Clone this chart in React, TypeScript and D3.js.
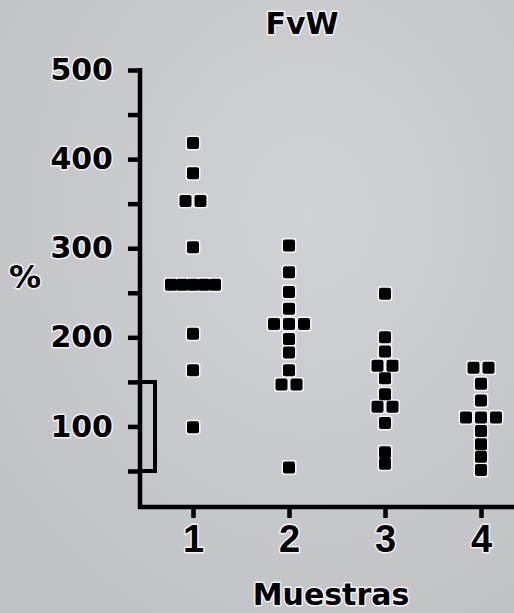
import React, { useRef, useEffect } from 'react';
import * as d3 from 'd3';

// Muestras (samples) on the x axis, FvW % values
const categories = [1, 2, 3, 4];
const muestra1 = [418, 384, 353, 353, 301, 259, 259, 259, 259, 259, 204, 163, 99];
const muestra2 = [303, 273, 251, 232, 215, 215, 215, 198, 183, 163, 147, 147, 54];
const muestra3 = [249, 200, 184, 168, 168, 154, 136, 122, 122, 104, 71, 58];
const muestra4 = [166, 166, 148, 129, 110, 110, 110, 95, 80, 66, 51];
const series = [muestra1, muestra2, muestra3, muestra4];

const yTicks = [50, 100, 150, 200, 250, 300, 350, 400, 450, 500];
const yLabelled = [100, 200, 300, 400, 500];
const normalRange = [50, 150];

const width = 514;
const height = 613;

const FvWChart = () => {
  const ref = useRef<SVGSVGElement>(null);

  useEffect(() => {
    const svg = d3.select(ref.current);
    svg.selectAll('*').remove();

    const axisX = 140;
    const baseY = 507;

    const x = d3.scaleLinear().domain([1, 4]).range([193, 481]);
    const y = d3.scaleLinear().domain([50, 500]).range([471, 70]);

    // background (photo of a screen, slightly vignetted)
    const defs = svg.append('defs');
    const grad = defs.append('radialGradient')
      .attr('id', 'bg')
      .attr('cx', '60%').attr('cy', '35%').attr('r', '80%');
    grad.append('stop').attr('offset', '0%').attr('stop-color', '#d0d2d5');
    grad.append('stop').attr('offset', '100%').attr('stop-color', '#bfc1c5');
    svg.append('rect')
      .attr('width', width)
      .attr('height', height)
      .attr('fill', 'url(#bg)');

    const halo = (sel) => sel
      .attr('stroke', '#f2f3f5')
      .attr('stroke-width', 3)
      .attr('stroke-linejoin', 'round')
      .attr('paint-order', 'stroke');

    // y axis
    const yAxis = svg.append('g')
      .attr('transform', `translate(${axisX},0)`)
      .call(
        d3.axisLeft(y)
          .tickValues(yTicks)
          .tickSize(12)
          .tickPadding(15)
          .tickFormat((d) => (yLabelled.includes(d as number) ? String(d) : ''))
      );
    yAxis.select('.domain').remove();
    yAxis.selectAll('line').attr('stroke', '#000').attr('stroke-width', 4.5);
    yAxis.selectAll('text')
      .attr('fill', '#000')
      .attr('font-family', '"DejaVu Sans", sans-serif')
      .attr('font-weight', 'bold')
      .attr('font-size', 30)
      .call(halo);

    // x axis
    const xAxis = svg.append('g')
      .attr('transform', `translate(0,${baseY})`)
      .call(
        d3.axisBottom(x)
          .tickValues(categories)
          .tickSize(11)
          .tickPadding(7)
          .tickFormat(d3.format('d'))
      );
    xAxis.select('.domain').remove();
    xAxis.selectAll('line').attr('stroke', '#000').attr('stroke-width', 4.5);
    xAxis.selectAll('text')
      .attr('fill', '#000')
      .attr('font-family', '"Liberation Sans", Arial, sans-serif')
      .attr('font-weight', 'bold')
      .attr('font-size', 38)
      .call(halo);

    // axis lines
    svg.append('path')
      .attr('d', `M${axisX},${y(500) - 2}V${baseY}H${width}`)
      .attr('fill', 'none')
      .attr('stroke', '#000')
      .attr('stroke-width', 4.5)
      .attr('stroke-linejoin', 'miter');

    // normal range bracket
    svg.append('path')
      .attr('d', `M${axisX},${y(normalRange[1])}H155V${y(normalRange[0])}H${axisX}`)
      .attr('fill', 'none')
      .attr('stroke', '#000')
      .attr('stroke-width', 4);

    // dots
    const size = 12;
    const dots = [];
    series.forEach((vals, gi) => {
      const counts = d3.rollup(vals, (v) => v.length, (d) => d);
      const seen = new Map();
      vals.forEach((v) => {
        const n = counts.get(v);
        const i = seen.get(v) || 0;
        seen.set(v, i + 1);
        const step = n > 3 ? 11 : 15;
        dots.push({ cx: x(categories[gi]) + (i - (n - 1) / 2) * step, cy: y(v) });
      });
    });

    const g = svg.append('g');
    g.selectAll('rect.halo')
      .data(dots)
      .join('rect')
      .attr('class', 'halo')
      .attr('x', (d) => d.cx - size / 2 - 1.5)
      .attr('y', (d) => d.cy - size / 2 - 1.5)
      .attr('width', size + 3)
      .attr('height', size + 3)
      .attr('rx', 3)
      .attr('fill', '#f4f5f6');
    g.selectAll('rect.dot')
      .data(dots)
      .join('rect')
      .attr('class', 'dot')
      .attr('x', (d) => d.cx - size / 2)
      .attr('y', (d) => d.cy - size / 2)
      .attr('width', size)
      .attr('height', size)
      .attr('rx', 2)
      .attr('fill', '#000');

    // titles
    svg.append('text')
      .attr('x', 302)
      .attr('y', 34)
      .attr('text-anchor', 'middle')
      .attr('font-family', '"DejaVu Sans", sans-serif')
      .attr('font-weight', 'bold')
      .attr('font-size', 30)
      .attr('fill', '#000')
      .call(halo)
      .text('FvW');

    svg.append('text')
      .attr('x', 25)
      .attr('y', 288)
      .attr('text-anchor', 'middle')
      .attr('font-family', '"DejaVu Sans", sans-serif')
      .attr('font-weight', 'bold')
      .attr('font-size', 32)
      .attr('fill', '#000')
      .call(halo)
      .text('%');

    svg.append('text')
      .attr('x', 331)
      .attr('y', 605)
      .attr('text-anchor', 'middle')
      .attr('font-family', '"DejaVu Sans", sans-serif')
      .attr('font-weight', 'bold')
      .attr('font-size', 30)
      .attr('fill', '#000')
      .call(halo)
      .text('Muestras');

    return () => {
      d3.select(ref.current).selectAll('*').remove();
    };
  }, []);

  return (
    <svg
      ref={ref}
      width={width}
      height={height}
      style={{ position: 'absolute', left: 0, top: 0, display: 'block' }}
    ></svg>
  );
};

export default function App() {
  return <FvWChart />;
}
